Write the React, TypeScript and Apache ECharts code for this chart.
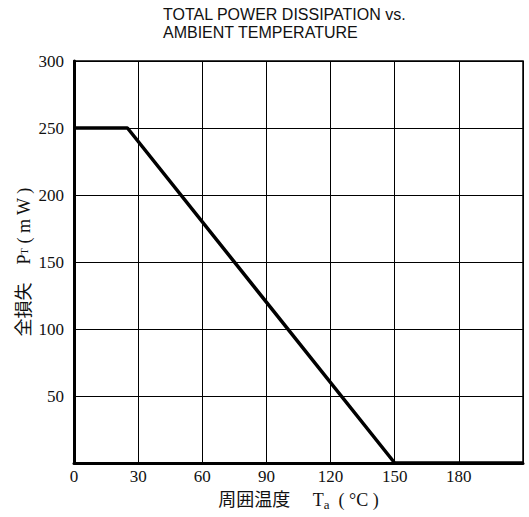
import React, { useEffect, useRef } from "react";
import * as echarts from "echarts";

const titleLines = ["TOTAL POWER DISSIPATION vs.", "AMBIENT TEMPERATURE"];
const xTicks = [0, 30, 60, 90, 120, 150, 180, 210];
const yTicks = [0, 50, 100, 150, 200, 250, 300];
const tempC = [0, 25, 150, 210];
const powerMW = [250, 250, 0, 0];

const serif = "'Liberation Serif', 'DejaVu Serif', serif";
const cjk = "'Liberation Serif', 'Noto Sans CJK JP', serif";

export default function App() {
  const ref = useRef<HTMLDivElement>(null);
  useEffect(() => {
    if (!ref.current) return;
    const chart = echarts.init(ref.current, null, { renderer: "svg" });
    chart.setOption({
      animation: false,
      backgroundColor: "#fff",
      graphic: [
        {
          type: "text",
          left: 163,
          top: 5,
          style: {
            text: titleLines.join("\n"),
            font: "16px 'Liberation Sans', Arial, sans-serif",
            lineHeight: 18,
            fill: "#111",
          },
        },
      ],
      grid: {
        left: 74,
        right: 6,
        top: 61,
        bottom: 54,
        show: true,
        borderColor: "#000",
        borderWidth: 1.5,
      },
      xAxis: {
        type: "value",
        min: xTicks[0],
        max: xTicks[xTicks.length - 1],
        interval: 30,
        name: "周囲温度　 T{sub|a}  ( °C )",
        nameLocation: "middle",
        nameGap: 25,
        nameMoveOverlap: false,
        nameTextStyle: {
          fontFamily: cjk,
          fontSize: 18,
          color: "#111",
          rich: {
            sub: { fontFamily: serif, fontSize: 13, verticalAlign: "bottom", padding: [10, 0, 0, 0], color: "#111" },
          },
        },
        axisLine: { show: true, lineStyle: { color: "#000", width: 3 } },
        axisTick: { show: false },
        splitLine: { show: true, lineStyle: { color: "#000", width: 1 } },
        axisLabel: {
          fontFamily: serif,
          fontSize: 17,
          fontWeight: 500,
          color: "#111",
          margin: 5,
          formatter: (v: number) => (v === 210 ? "" : String(v)),
        },
      },
      yAxis: {
        type: "value",
        min: yTicks[0],
        max: yTicks[yTicks.length - 1],
        interval: 50,
        name: "全損失　P{sub|T} ( m W )",
        nameLocation: "middle",
        nameRotate: 90,
        nameGap: 41,
        nameMoveOverlap: false,
        nameTextStyle: {
          fontFamily: cjk,
          fontSize: 18,
          color: "#111",
          rich: {
            sub: { fontFamily: serif, fontSize: 10, color: "#111" },
          },
        },
        axisLine: { show: true, lineStyle: { color: "#000", width: 3 } },
        axisTick: { show: false },
        splitLine: { show: true, lineStyle: { color: "#000", width: 1 } },
        axisLabel: {
          fontFamily: serif,
          fontSize: 17,
          fontWeight: 500,
          color: "#111",
          margin: 10,
          formatter: (v: number) => (v === 0 ? "" : String(v)),
        },
      },
      series: [
        {
          type: "line",
          data: tempC.map((t, i) => [t, powerMW[i]]),
          showSymbol: false,
          lineStyle: { color: "#000", width: 3.5 },
        },
      ],
    });
    return () => chart.dispose();
  }, []);
  return <div ref={ref} style={{ width: 529, height: 517, position: "absolute", left: 0, top: 0 }} />;
}
